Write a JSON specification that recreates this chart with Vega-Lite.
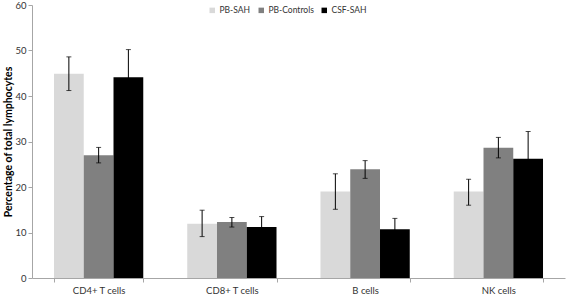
{
  "$schema": "https://vega.github.io/schema/vega-lite/v6.json",
  "width": 533,
  "height": 273,
  "autosize": {"type": "none"},
  "padding": {"left": 32, "top": 5, "right": 2, "bottom": 17},
  "background": "white",
  "config": {
    "view": {"stroke": null},
    "font": "Lato",
    "axis": {"grid": false, "domainColor": "#a6a6a6", "tickColor": "#a6a6a6", "labelColor": "#333333", "labelFont": "Lato", "labelFontSize": 9.5, "titleFont": "Lato"},
    "legend": {"labelFont": "Lato"}
  },
  "data": {
    "values": [
      {"cell": "CD4+ T cells", "group": "PB-SAH", "value": 44.9, "lo": 41.2, "hi": 48.6},
      {"cell": "CD4+ T cells", "group": "PB-Controls", "value": 27.0, "lo": 25.3, "hi": 28.7},
      {"cell": "CD4+ T cells", "group": "CSF-SAH", "value": 44.1, "lo": 38.0, "hi": 50.2},
      {"cell": "CD8+ T cells", "group": "PB-SAH", "value": 11.9, "lo": 9.1, "hi": 14.9},
      {"cell": "CD8+ T cells", "group": "PB-Controls", "value": 12.3, "lo": 11.2, "hi": 13.3},
      {"cell": "CD8+ T cells", "group": "CSF-SAH", "value": 11.2, "lo": 8.9, "hi": 13.5},
      {"cell": "B cells", "group": "PB-SAH", "value": 19.0, "lo": 15.1, "hi": 22.9},
      {"cell": "B cells", "group": "PB-Controls", "value": 23.9, "lo": 21.9, "hi": 25.8},
      {"cell": "B cells", "group": "CSF-SAH", "value": 10.7, "lo": 8.3, "hi": 13.1},
      {"cell": "NK cells", "group": "PB-SAH", "value": 19.0, "lo": 16.0, "hi": 21.7},
      {"cell": "NK cells", "group": "PB-Controls", "value": 28.6, "lo": 26.4, "hi": 30.9},
      {"cell": "NK cells", "group": "CSF-SAH", "value": 26.2, "lo": 20.2, "hi": 32.2}
    ]
  },
  "encoding": {
    "x": {
      "field": "cell", "type": "nominal", "sort": ["CD4+ T cells", "CD8+ T cells", "B cells", "NK cells"],
      "scale": {"paddingInner": 0.33, "paddingOuter": 0.165},
      "axis": {"title": null, "labelAngle": 0, "tickBand": "extent", "tickSize": 4, "labelPadding": 3, "domainWidth": 1}
    },
    "xOffset": {"field": "group", "type": "nominal", "sort": ["PB-SAH", "PB-Controls", "CSF-SAH"], "scale": {"paddingInner": 0, "paddingOuter": 0}}
  },
  "layer": [
    {
      "mark": {"type": "bar"},
      "encoding": {
        "y": {
          "field": "value", "type": "quantitative",
          "scale": {"domain": [0, 60], "nice": false},
          "axis": {"values": [0, 10, 20, 30, 40, 50, 60], "title": "Percentage of total lymphocytes", "titleFontSize": 10.5, "titleFontWeight": "bold", "titleColor": "#000000", "titlePadding": 1, "tickSize": 4, "labelPadding": 2}
        },
        "color": {
          "field": "group", "type": "nominal", "sort": ["PB-SAH", "PB-Controls", "CSF-SAH"],
          "scale": {"domain": ["PB-SAH", "PB-Controls", "CSF-SAH"], "range": ["#d9d9d9", "#808080", "#000000"]},
          "legend": {"title": null, "orient": "none", "direction": "horizontal", "legendX": 176, "legendY": 1, "symbolType": "square", "symbolSize": 30, "symbolStrokeWidth": 0, "labelFontSize": 8.5, "labelColor": "#333333", "labelOffset": 3, "columnPadding": 6, "symbolOffset": 0}
        }
      }
    },
    {
      "mark": {"type": "rule", "color": "#000000", "strokeWidth": 1},
      "encoding": {"y": {"field": "lo", "type": "quantitative"}, "y2": {"field": "hi"}}
    },
    {
      "mark": {"type": "tick", "color": "#000000", "thickness": 1, "size": 5},
      "encoding": {"y": {"field": "lo", "type": "quantitative"}}
    },
    {
      "mark": {"type": "tick", "color": "#000000", "thickness": 1, "size": 5},
      "encoding": {"y": {"field": "hi", "type": "quantitative"}}
    }
  ]
}
